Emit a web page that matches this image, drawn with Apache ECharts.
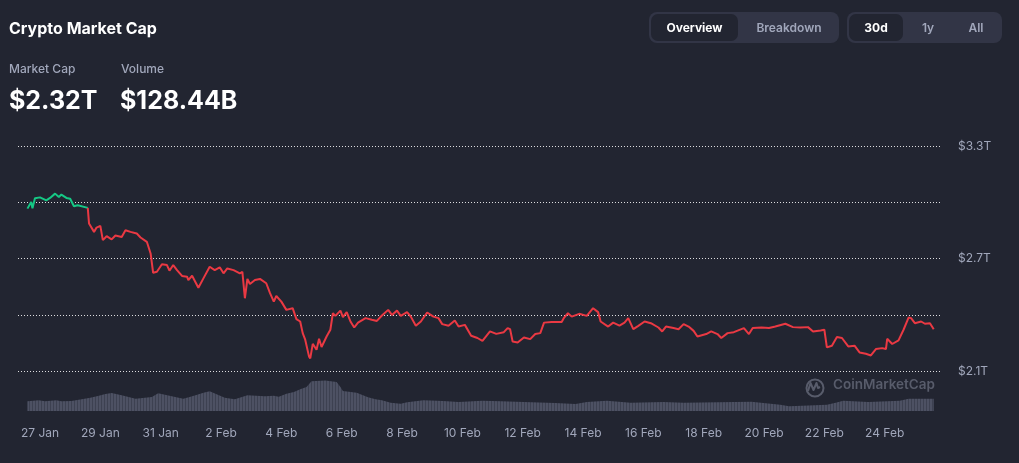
<!DOCTYPE html>
<html>
<head>
<meta charset="utf-8">
<title>Crypto Market Cap</title>
<script src="https://cdn.jsdelivr.net/npm/echarts@6/dist/echarts.min.js"></script>
<style>
  body { margin: 0; background: #222531; font-family: Inter, "Noto Sans", sans-serif; }
  #wrap { position: relative; width: 1019px; height: 463px; overflow: hidden; }
  #chart { position: absolute; left: 0; top: 0; width: 1019px; height: 463px; }
  .title { position: absolute; left: 9px; top: 18px; color: #fff; font-size: 16px; line-height: 20px; font-weight: 700; }
  .lbl { position: absolute; top: 61px; color: #a1a7bb; font-size: 12px; line-height: 16px; font-weight: 500; }
  .big { position: absolute; top: 86px; color: #fff; font-size: 25px; line-height: 28px; font-weight: 700; }
  .seg { position: absolute; top: 12px; height: 31px; background: #323546; border-radius: 8px; }
  .seg span { position: absolute; top: 2px; height: 27px; line-height: 27px; text-align: center;
              font-size: 12px; font-weight: 600; color: #a1a7bb; border-radius: 7px; }
  .seg span.on { background: #222531; color: #fff; font-weight: 700; }
</style>
</head>
<body>
<div id="wrap">
  <div id="chart"></div>
  <div class="title">Crypto Market Cap</div>
  <div class="lbl" style="left:9px">Market Cap</div>
  <div class="lbl" style="left:121px">Volume</div>
  <div class="big" style="left:9px">$2.32T</div>
  <div class="big" style="left:120px">$128.44B</div>
  <div class="seg" style="left:649px;width:190px">
    <span class="on" style="left:2px;width:87px">Overview</span>
    <span style="left:95px;width:90px">Breakdown</span>
  </div>
  <div class="seg" style="left:847px;width:155px">
    <span class="on" style="left:2px;width:54px">30d</span>
    <span style="left:60px;width:42px">1y</span>
    <span style="left:106px;width:46px">All</span>
  </div>
</div>
<script>
// x values are hours after the first sample (26 Jan 2026 14:00 UTC)
var START = Date.UTC(2026, 0, 26, 14);

var capHours = [0, 3, 4, 6, 10, 15, 18, 22, 25, 27,
  31, 34, 37, 40, 48, 49, 53, 55, 58, 60,
  63, 67, 70, 75, 78, 82, 87, 90, 95, 98,
  100, 103, 107, 111, 113, 116, 119, 123, 127, 128,
  131, 136, 140, 145, 149, 153, 156, 159, 164, 169,
  171, 173, 175, 177, 181, 185, 190, 193, 196, 198,
  202, 206, 211, 214, 217, 219, 221, 224, 225, 227,
  230, 232, 234, 238, 241, 243, 245, 249, 251, 254,
  257, 260, 263, 269, 274, 278, 282, 287, 290, 294,
  297, 302, 305, 309, 313, 318, 323, 327, 330, 335,
  340, 343, 348, 353, 358, 362, 368, 373, 379, 382,
  384, 386, 390, 395, 400, 404, 408, 411, 417, 425,
  427, 430, 433, 439, 445, 450, 454, 456, 462, 466,
  471, 475, 478, 482, 486, 491, 496, 502, 505, 508,
  514, 518, 522, 526, 530, 533, 540, 544, 549, 552,
  557, 562, 570, 574, 577, 584, 590, 595, 603, 609,
  615, 621, 625, 631, 634, 636, 640, 644, 648, 653,
  658, 662, 667, 671, 675, 680, 683, 684, 688, 693,
  697, 701, 703, 706, 711, 714, 718, 721];

// market cap, trillions USD
var capValues = [2.966, 3.001, 2.968, 3.021, 3.026, 3.010, 3.023, 3.046, 3.028, 3.041,
  3.023, 3.019, 2.979, 2.984, 2.970, 2.887, 2.842, 2.865, 2.874, 2.798,
  2.819, 2.802, 2.823, 2.815, 2.851, 2.842, 2.833, 2.812, 2.789, 2.727,
  2.624, 2.629, 2.669, 2.665, 2.635, 2.665, 2.638, 2.607, 2.603, 2.585,
  2.608, 2.544, 2.594, 2.656, 2.638, 2.653, 2.621, 2.647, 2.638, 2.621,
  2.629, 2.488, 2.591, 2.564, 2.585, 2.591, 2.568, 2.515, 2.470, 2.500,
  2.470, 2.426, 2.435, 2.377, 2.364, 2.302, 2.267, 2.178, 2.167, 2.245,
  2.213, 2.272, 2.228, 2.284, 2.320, 2.408, 2.394, 2.422, 2.387, 2.414,
  2.364, 2.332, 2.358, 2.382, 2.373, 2.367, 2.396, 2.426, 2.399, 2.422,
  2.394, 2.414, 2.390, 2.341, 2.364, 2.412, 2.390, 2.382, 2.350, 2.341,
  2.369, 2.337, 2.346, 2.288, 2.276, 2.261, 2.311, 2.298, 2.307, 2.329,
  2.323, 2.257, 2.252, 2.279, 2.270, 2.297, 2.302, 2.358, 2.361, 2.361,
  2.385, 2.408, 2.390, 2.405, 2.394, 2.435, 2.414, 2.364, 2.337, 2.358,
  2.342, 2.358, 2.382, 2.323, 2.341, 2.364, 2.355, 2.332, 2.311, 2.337,
  2.329, 2.323, 2.350, 2.337, 2.314, 2.284, 2.297, 2.311, 2.297, 2.276,
  2.302, 2.307, 2.329, 2.297, 2.329, 2.332, 2.329, 2.337, 2.352, 2.334,
  2.332, 2.334, 2.311, 2.316, 2.320, 2.226, 2.235, 2.281, 2.276, 2.231,
  2.235, 2.199, 2.192, 2.183, 2.217, 2.222, 2.217, 2.272, 2.244, 2.263,
  2.320, 2.385, 2.382, 2.355, 2.364, 2.352, 2.355, 2.323];

var volHours = [0, 9, 14, 23, 27, 35, 50, 56, 62, 67,
  75, 86, 99, 104, 124, 129, 135, 140, 145, 157,
  165, 175, 189, 196, 200, 206, 212, 217, 222, 226,
  237, 246, 249, 251, 262, 266, 271, 277, 282, 289,
  297, 302, 315, 326, 334, 343, 362, 377, 395, 420,
  436, 445, 461, 473, 480, 506, 522, 576, 599, 606,
  636, 643, 649, 669, 694, 701, 721];

// volume, billions USD
var volValues = [101, 111, 101, 111, 101, 104, 138, 156, 177, 187,
  163, 128, 146, 184, 128, 146, 170, 190, 205, 138,
  122, 163, 153, 159, 149, 180, 198, 226, 250, 309,
  319, 302, 250, 208, 190, 170, 142, 122, 111, 86,
  76, 90, 111, 107, 101, 94, 107, 101, 94, 83,
  73, 94, 107, 94, 86, 94, 86, 97, 66, 49,
  66, 86, 107, 94, 107, 128, 128];

var labelDates = ['2026-01-27', '2026-01-29', '2026-01-31', '2026-02-02', '2026-02-04',
  '2026-02-06', '2026-02-08', '2026-02-10', '2026-02-12', '2026-02-14',
  '2026-02-16', '2026-02-18', '2026-02-20', '2026-02-22', '2026-02-24'];

var months = ['Jan', 'Feb', 'Mar', 'Apr', 'May', 'Jun', 'Jul', 'Aug', 'Sep', 'Oct', 'Nov', 'Dec'];

var capData = capHours.map(function (h, i) { return [h, capValues[i]]; });
var volData = volHours.map(function (h, i) { return [h, volValues[i]]; });
var labelHours = labelDates.map(function (d) {
  return (Date.parse(d + 'T00:00:00Z') - START) / 3600000;
});

// the line is green while it stays above its opening value, red once it drops below
var firstDrop = capValues.findIndex(function (v, i) { return i > 2 && v < capValues[0] - 0.01; });
var greenData = capData.slice(0, firstDrop);
var redData = capData.slice(firstDrop - 1);

var xMin = -7.5;
var xMax = 726;

// striped fill for the volume area
var stripe = document.createElement('canvas');
stripe.width = 3;
stripe.height = 4;
var sctx = stripe.getContext('2d');
sctx.fillStyle = '#4d5163';
sctx.fillRect(0, 0, 3, 4);
sctx.fillStyle = '#3d4151';
sctx.fillRect(2, 0, 1, 4);

var chart = echarts.init(document.getElementById('chart'));

chart.setOption({
  backgroundColor: 'transparent',
  animation: false,
  grid: [
    { left: 18, right: 79, top: 146, height: 225 },
    { left: 18, right: 79, top: 380, height: 31 }
  ],
  xAxis: [{
    type: 'value', gridIndex: 0, min: xMin, max: xMax, show: false
  }, {
    type: 'value', gridIndex: 1, min: xMin, max: xMax,
    axisLine: { show: false },
    axisTick: { show: false, customValues: labelHours },
    splitLine: { show: false },
    axisLabel: {
      customValues: labelHours,
      margin: 16,
      color: '#a1a7bb',
      fontSize: 12,
      fontFamily: 'Inter',
      formatter: function (v) {
        var d = new Date(START + v * 3600000);
        return d.getUTCDate() + ' ' + months[d.getUTCMonth()];
      }
    }
  }],
  yAxis: [{
    type: 'value', gridIndex: 0, position: 'right',
    min: 2.1, max: 3.3, interval: 0.3,
    axisLine: { show: false },
    axisTick: { show: false },
    axisLabel: {
      margin: 18,
      color: '#a1a7bb',
      fontSize: 12,
      fontFamily: 'Inter',
      formatter: function (v) {
        return Math.round(v * 10) % 6 === 3 ? '$' + v.toFixed(1) + 'T' : '';
      }
    },
    splitLine: { lineStyle: { color: 'rgba(255,255,255,0.85)', type: [1, 2], width: 1 } }
  }, {
    type: 'value', gridIndex: 1, min: 0, max: 323, show: false
  }],
  graphic: [
    {
      type: 'circle', left: 804, top: 377,
      shape: { r: 8.5 },
      style: { fill: 'none', stroke: '#585c6b', lineWidth: 2 }
    },
    {
      type: 'polyline',
      shape: { points: [[808, 391], [810.5, 383], [813.5, 390], [816.5, 383], [818, 388], [820, 387]] },
      style: { fill: 'none', stroke: '#585c6b', lineWidth: 2, lineJoin: 'round' }
    },
    {
      type: 'text', left: 833, top: 378,
      style: { text: 'CoinMarketCap', fill: '#585c6b', font: '600 13.5px Inter' }
    }
  ],
  series: [{
    name: 'Market Cap up',
    type: 'line',
    xAxisIndex: 0,
    yAxisIndex: 0,
    data: greenData,
    symbol: 'none',
    lineStyle: { width: 2, color: '#16c784' },
    z: 3
  }, {
    name: 'Market Cap down',
    type: 'line',
    xAxisIndex: 0,
    yAxisIndex: 0,
    data: redData,
    symbol: 'none',
    lineStyle: { width: 2, color: '#ea3943' },
    z: 3
  }, {
    name: 'Volume',
    type: 'line',
    xAxisIndex: 1,
    yAxisIndex: 1,
    data: volData,
    symbol: 'none',
    lineStyle: { width: 0 },
    areaStyle: { color: { image: stripe, repeat: 'repeat' }, opacity: 1 },
    z: 1
  }]
});
</script>
</body>
</html>
